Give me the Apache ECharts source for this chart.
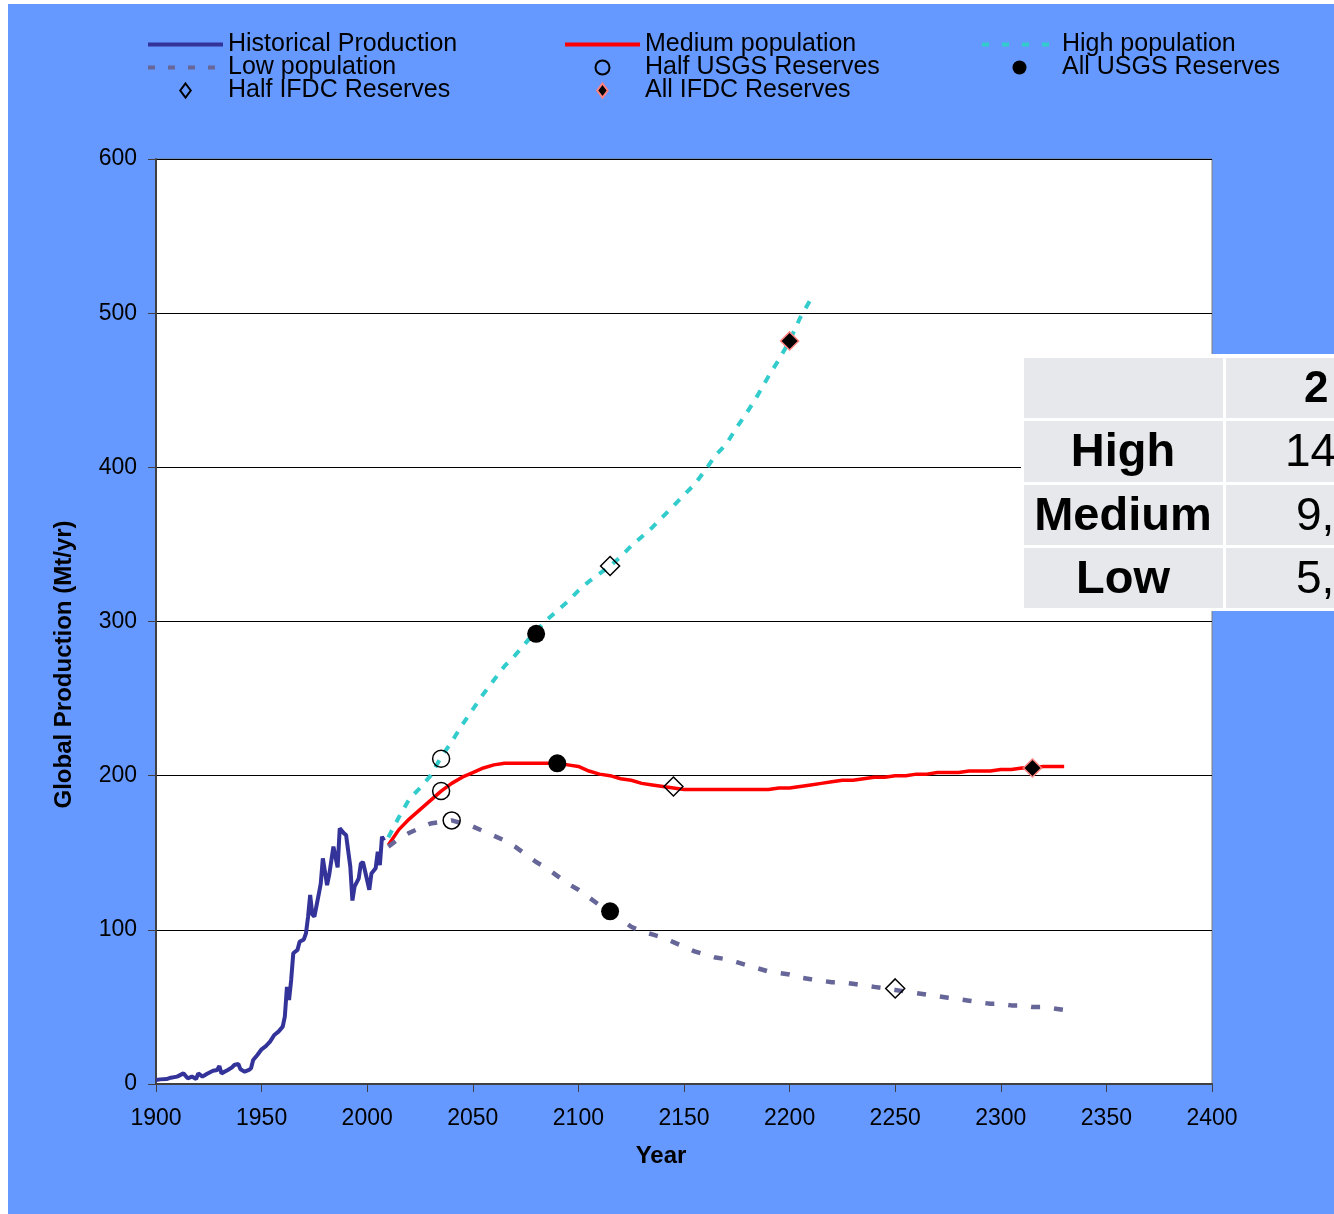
<!DOCTYPE html>
<html><head><meta charset="utf-8">
<script src="https://cdn.jsdelivr.net/npm/echarts@6/dist/echarts.min.js"></script>
<style>html,body{margin:0;padding:0;background:#fff}#c{width:1334px;height:1214px}</style>
</head><body><div id="c"></div>
<script>
// Historical production (Mt/yr)
const histYears = [1900,1902,1905,1907,1910,1913,1915,1917,1919,1920,1922,1924,1927,1929,1930,1931,1934,1936,1937,1939,1940,1942,1944,1945,1946,1948,1950,1952,1954,1956,1958,1960,1961,1962,1963,1964,1965,1967,1968,1970,1971,1972,1973,1974,1975,1977,1978,1979,1981,1982,1984,1986,1987,1989,1990,1992,1993,1994,1996,1997,1998,2000,2001,2002,2004,2005,2006,2007,2008];
const histValues = [2.6,3,3.2,4.1,4.8,6.9,3.7,4.8,3.2,6.9,4.8,6.5,8.6,9.1,11.7,6.9,9.1,10.8,12.3,13,9.5,8,9.1,10.2,15.6,18.8,22.5,24.6,27.5,31.8,34,37.2,43.7,63,54.5,67.5,84.8,87,92.3,93.8,97.7,108.5,122.6,110,108.5,122.6,130,146.4,129,135.6,154,140.5,165.8,162.6,161.5,141,119,128,133.4,143,144,132,126,136.6,140,150.7,142,160.4,158];

// Projections
const projYears = [2010,2015,2020,2025,2030,2035,2040,2045,2050,2055,
  2060,2065,2070,2075,2080,2085,2090,2095,2100,2105,
  2110,2115,2120,2125,2130,2135,2140,2145,2150,2155,
  2160,2165,2170,2175,2180,2185,2190,2195,2200,2205,
  2210,2215,2220,2225,2230,2235,2240,2245,2250,2255,
  2260,2265,2270,2275,2280,2285,2290,2295,2300,2305,
  2310,2315,2320,2325,2330];
const mediumValues = [155,165,172,178,184,190,195,199,202,205,
  207,208,208,208,208,208,208,207,206,203,
  201,200,198,197,195,194,193,192,191,191,
  191,191,191,191,191,191,191,192,192,193,
  194,195,196,197,197,198,199,199,200,200,
  201,201,202,202,202,203,203,203,204,204,
  205,205,206,206,206];
const lowValues = [154,159,163,166,169,170,171,169,167,164,
  161,158,154,149,144,140,135,130,126,121,
  116,112,107,102,99,97,95,92,89,86,
  84,82,81,79,77,75,73,72,71,69,
  68,67,66,66,65,64,63,62,61,60,
  59,58,57,56,55,54,53,52,52,51,
  51,50,50,49,48];
const highYears = [2010,2015,2020,2025,2030,2035,2040,2045,2050,2055,
  2060,2065,2070,2075,2080,2085,2090,2095,2100,2105,
  2110,2115,2120,2125,2130,2135,2140,2145,2150,2155,
  2160,2165,2170,2175,2180,2185,2190,2195,2200,2205,2210];
const highValues = [160,173,185,192,200,212,222,233,243,253,
  262,271,278,286,294,301,307,313,320,326,
  331,336,342,349,355,361,368,375,382,389,
  398,408,415,426,436,447,459,470,482,497,509];

// Reserve depletion markers
const halfUsgsYears = [2035,2035,2040];
const halfUsgsValues = [211,190,171];
const allUsgsYears = [2080,2090,2115];
const allUsgsValues = [292,208,112];
const halfIfdcYears = [2115,2145,2250];
const halfIfdcValues = [336,193,62];
const allIfdcYears = [2200,2315];
const allIfdcValues = [482,205];

// Inset table (clipped at the right edge)
const tableHeader = '2';
const tableRows = ['High','Medium','Low'];
const tableValues = ['14','9,','5,'];

const pair = (xs, ys) => xs.map((x, i) => [x, ys[i]]);
const FONT = '"Liberation Sans", Arial, sans-serif';

const chart = echarts.init(document.getElementById('c'), null, {renderer:'canvas'});

const rowTops = [358, 421, 485, 548];
const rowH = [60, 61, 60, 60];
const tableGraphics = [
  {type:'rect', z:100, silent:true, shape:{x:1021,y:354,width:313,height:257}, style:{fill:'#ffffff'}}
];
rowTops.forEach((t, r) => {
  tableGraphics.push({type:'rect', z:101, silent:true, shape:{x:1024,y:t,width:199,height:rowH[r]}, style:{fill:'#E7E8EC'}});
  tableGraphics.push({type:'rect', z:101, silent:true, shape:{x:1226,y:t,width:108,height:rowH[r]}, style:{fill:'#E7E8EC'}});
});
tableGraphics.push({type:'text', z:102, silent:true, style:{text:tableHeader, x:1304, y:rowTops[0]+rowH[0]/2+2, font:'bold 44px ' + FONT, fill:'#000', align:'left', verticalAlign:'middle'}});
tableRows.forEach((name, i) => {
  const cy = rowTops[i+1] + rowH[i+1]/2 + 2;
  tableGraphics.push({type:'text', z:102, silent:true, style:{text:name, x:1123, y:cy, font:'bold 47px ' + FONT, fill:'#000', align:'center', verticalAlign:'middle'}});
  tableGraphics.push({type:'text', z:102, silent:true, style:{text:tableValues[i], x:(i===0?1285:1296), y:cy, font:'46px ' + FONT, fill:'#000', align:'left', verticalAlign:'middle'}});
});

const DIAMOND = 'path://M6,0 L12,8 L6,16 L0,8 Z';
const legendText = {fontFamily: FONT, fontSize: 25, color:'#000', lineHeight: 23};
const legendCommon = {orient:'vertical', itemWidth:75, itemHeight:14, textStyle:legendText, selectedMode:false, padding:0, itemGap:-2};
const hideSym = {opacity:0};

chart.setOption({
  animation:false,
  backgroundColor:'#ffffff',
  graphic:[
    {type:'rect', z:-100, silent:true, shape:{x:8,y:4,width:1326,height:1210}, style:{fill:'#6699FF'}}
  ].concat(tableGraphics),
  legend:[
    Object.assign({left:146, top:32, data:[
      {name:'Historical Production', itemStyle:hideSym, lineStyle:{width:4, color:'#333399'}},
      {name:'Low population', itemStyle:hideSym, lineStyle:{width:4, color:'#666699', type:[7,13]}},
      {name:'Half IFDC Reserves', icon:DIAMOND}
    ]}, legendCommon),
    Object.assign({left:563, top:32, data:[
      {name:'Medium population', itemStyle:hideSym, lineStyle:{width:4, color:'#FF0000'}},
      {name:'Half USGS Reserves'},
      {name:'All IFDC Reserves', icon:DIAMOND}
    ]}, legendCommon),
    Object.assign({left:980, top:32, data:[
      {name:'High population', itemStyle:hideSym, lineStyle:{width:4, color:'#33CCCC', type:[7,13]}},
      {name:'All USGS Reserves'}
    ]}, legendCommon)
  ],
  grid:{left:156, top:159, width:1056, height:925, show:true, backgroundColor:'#ffffff', borderColor:'#808080', borderWidth:1, containLabel:false},
  xAxis:{
    type:'value', min:1900, max:2400, interval:50,
    name:'Year', nameLocation:'middle', nameGap:60,
    nameTextStyle:{fontFamily:FONT, fontSize:24, fontWeight:'bold', color:'#000', padding:[0,46,0,0]},
    axisLine:{show:true, onZero:false, lineStyle:{color:'#404040', width:2}},
    axisTick:{show:true, length:8, lineStyle:{color:'#404040', width:1}},
    axisLabel:{fontFamily:FONT, fontSize:23, color:'#000', margin:23, formatter:(v)=>String(v)},
    splitLine:{show:false}
  },
  yAxis:{
    type:'value', min:0, max:600, interval:100,
    name:'Global Production (Mt/yr)', nameLocation:'middle', nameGap:80,
    nameTextStyle:{fontFamily:FONT, fontSize:24, fontWeight:'bold', color:'#000', padding:[0,86,0,0]},
    axisLine:{show:true, onZero:false, lineStyle:{color:'#404040', width:2}},
    axisTick:{show:true, length:8, lineStyle:{color:'#404040', width:1}},
    axisLabel:{fontFamily:FONT, fontSize:23, color:'#000', margin:19},
    splitLine:{show:true, lineStyle:{color:'#000', width:1}}
  },
  series:[
    {name:'Historical Production', type:'line', symbol:'none', data:pair(histYears, histValues), lineStyle:{color:'#333399', width:4}, itemStyle:{color:'#333399'}, z:3},
    {name:'Medium population', type:'line', symbol:'none', data:pair(projYears, mediumValues), lineStyle:{color:'#FF0000', width:3.5}, itemStyle:{color:'#FF0000'}, z:3},
    {name:'High population', type:'line', symbol:'none', data:pair(highYears, highValues), lineStyle:{color:'#33CCCC', width:4, type:[8,9]}, itemStyle:{color:'#33CCCC'}, z:3},
    {name:'Low population', type:'line', symbol:'none', data:pair(projYears, lowValues), lineStyle:{color:'#666699', width:4.5, type:[9,14]}, itemStyle:{color:'#666699'}, z:3},
    {name:'Half USGS Reserves', type:'scatter', symbol:'circle', symbolSize:17, data:pair(halfUsgsYears, halfUsgsValues), itemStyle:{color:'rgba(255,255,255,0)', borderColor:'#000', borderWidth:1.5, opacity:1}, z:5},
    {name:'All USGS Reserves', type:'scatter', symbol:'circle', symbolSize:18, data:pair(allUsgsYears, allUsgsValues), itemStyle:{color:'#000', opacity:1}, z:5},
    {name:'Half IFDC Reserves', type:'scatter', symbol:'diamond', symbolSize:19, data:pair(halfIfdcYears, halfIfdcValues), itemStyle:{color:'rgba(255,255,255,0)', borderColor:'#000', borderWidth:1.5, opacity:1}, z:5},
    {name:'All IFDC Reserves', type:'scatter', symbol:'diamond', symbolSize:18, data:pair(allIfdcYears, allIfdcValues), itemStyle:{color:'#000', borderColor:'#FF8080', borderWidth:1.5, opacity:1}, z:5}
  ]
});
</script>
</body></html>
